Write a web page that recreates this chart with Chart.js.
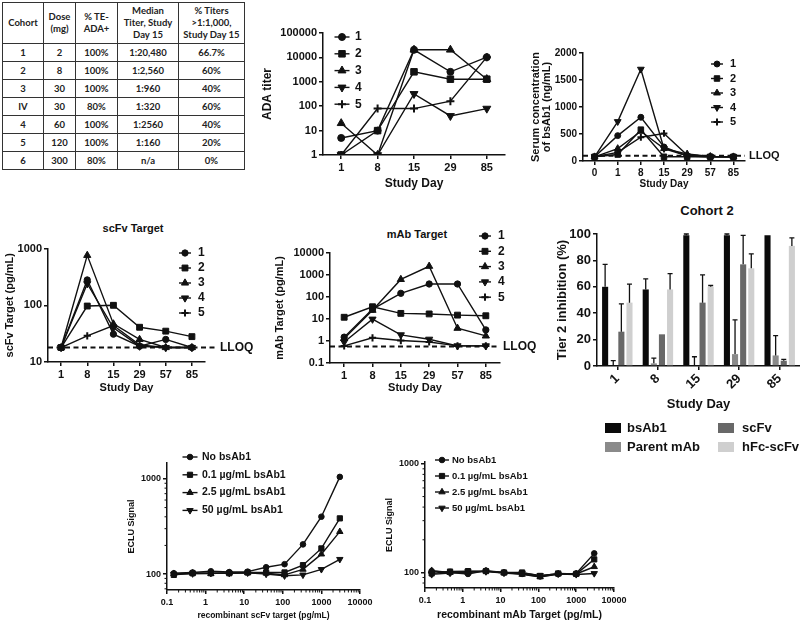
<!DOCTYPE html>
<html>
<head>
<meta charset="utf-8">
<script src="https://cdn.jsdelivr.net/npm/chart.js@4.4.1/dist/chart.umd.min.js"></script>
<style>
  html, body { margin: 0; padding: 0; background: #fff; }
  body { width: 800px; height: 623px; position: relative; overflow: hidden; }
  canvas { position: absolute; }
  .ttl { position: absolute; transform: translate(-50%, -50%); white-space: nowrap; color: #111;
         font-family: "Liberation Sans", Arial, sans-serif; font-weight: bold; }
  table { position: absolute; left: 2px; top: 2px; border-collapse: collapse; table-layout: fixed;
          font: bold 9.5px Lato, "Open Sans", sans-serif; color: #222; }
  th, td { border: 1px solid #333; text-align: center; padding: 0; white-space: pre-line; line-height: 1.25; }
  th { height: 40px; font-weight: bold; }
  td { height: 17px; }
</style>
</head>
<body>
<table id="cohortTable"></table>
<div class="ttl" style="left:133px; top:228px; font-size:11px">scFv Target</div>
<div class="ttl" style="left:417px; top:234px; font-size:11px">mAb Target</div>
<div class="ttl" style="left:707px; top:210px; font-size:13px">Cohort 2</div>

<script>
// ---------- data ----------
// summary table
const tableHead = ['Cohort', 'Dose\n(mg)', '% TE-\nADA+', 'Median\nTiter, Study\nDay 15', '% Titers\n>1:1,000,\nStudy Day 15'];
const colWidths = [41, 32, 42, 61, 66];
const cohorts = ['1', '2', '3', 'IV', '4', '5', '6'];
const doses = ['2', '8', '30', '30', '60', '120', '300'];
const teAda = ['100%', '100%', '100%', '80%', '100%', '100%', '80%'];
const medianTiter = ['1:20,480', '1:2,560', '1:960', '1:320', '1:2560', '1:160', 'n/a'];
const pctTiters = ['66.7%', '60%', '40%', '60%', '40%', '20%', '0%'];

const seriesNames = ['1', '2', '3', '4', '5'];

// ADA titer
const adaDays = ['1', '8', '15', '29', '85'];
const ada1 = [5, 10, 20480, 2560, 10240];
const ada2 = [1, 10, 2560, 1280, 1280];
const ada3 = [20, 1, 20480, 20480, 1280];
const ada4 = [1, 1, 320, 40, 80];
const ada5 = [1, 80, 80, 160, 10240];

// serum concentration of bsAb1 (ng/mL)
const serumDays = ['0', '1', '8', '15', '29', '57', '85'];
const serum1 = [78, 470, 810, 260, 90, 78, 78];
const serum2 = [78, 120, 580, 78, 78, 78, 78];
const serum3 = [78, 230, 550, 230, 130, 85, 78];
const serum4 = [78, 730, 1700, 230, 95, 78, 78];
const serum5 = [78, 160, 440, 510, 110, 85, 78];
const serumLloq = 95;

// scFv target (pg/mL)
const targetDays = ['1', '8', '15', '29', '57', '85'];
const scfv1 = [18, 280, 31, 19, 25, 18];
const scfv2 = [18, 97, 100, 41, 35, 28];
const scfv3 = [18, 760, 47, 25, 18, 18];
const scfv4 = [18, 240, 40, 19, 18, 18];
const scfv5 = [18, 29, 44, 20, 18, 18];
const scfvLloq = 18;

// mAb target (pg/mL)
const mab1 = [1.5, 28, 147, 390, 390, 3.2];
const mab2 = [12, 36, 18, 17, 15, 14];
const mab3 = [1.3, 25, 630, 2500, 3.8, 1.7];
const mab4 = [0.9, 9.8, 1.9, 1.2, 0.6, 0.6];
const mab5 = [0.6, 1.4, 1.05, 0.9, 0.6, 0.6];
const mabLloq = 0.56;
const lloqLabel = 'LLOQ';

// Cohort 2 tier 2 inhibition (%)
const cohortDays = ['1', '8', '15', '29', '85'];
const inhNames = ['bsAb1', 'Parent mAb', 'scFv', 'hFc-scFv'];
const bsAb1Inh = [60, 58, 99, 99, 99];
const bsAb1Err = [17, 8, 1, 1, 0];
const parentInh = [0, 2, 0, 9, 8];
const parentErr = [4, 4, 7, 26, 15];
const scfvInh = [26, 24, 48, 77, 4];
const scfvErr = [21, 0, 21, 22, 1];
const hfcInh = [48, 58, 60, 74, 91];
const hfcErr = [14, 12, 1, 11, 6];

// ECLU signal vs recombinant target (pg/mL)
const ecluNames = ['No bsAb1', '0.1 \u00b5g/mL bsAb1', '2.5 \u00b5g/mL bsAb1', '50 \u00b5g/mL bsAb1'];
const conc = [0.15, 0.46, 1.37, 4.1, 12.3, 37, 111, 333, 1000, 3000];
const scfvSigNo = [102, 104, 107, 105, 106, 118, 127, 205, 401, 1050];
const scfvSig01 = [98, 102, 102, 102, 104, 104, 104, 124, 186, 385];
const scfvSig25 = [101, 102, 101, 103, 103, 102, 98, 112, 162, 279];
const scfvSig50 = [100, 101, 102, 102, 103, 100, 96, 98, 112, 143];
const mabSigNo = [103, 100, 97, 104, 100, 97, 92, 97, 98, 150];
const mabSig01 = [98, 102, 103, 103, 100, 100, 93, 98, 97, 132];
const mabSig25 = [104, 100, 100, 103, 99, 96, 91, 97, 97, 113];
const mabSig50 = [96, 99, 102, 102, 99, 99, 94, 97, 96, 98];

// ---------- table ----------
const tbl = document.getElementById('cohortTable');
tbl.innerHTML = '<colgroup>' + colWidths.map(w => `<col style="width:${w}px">`).join('') + '</colgroup>' +
  '<tr>' + tableHead.map(h => `<th>${h.replace('>', '&gt;')}</th>`).join('') + '</tr>' +
  cohorts.map((c, i) => `<tr><td>${c}</td><td>${doses[i]}</td><td>${teAda[i]}</td><td>${medianTiter[i]}</td><td>${pctTiters[i]}</td></tr>`).join('');

// ---------- chart helpers ----------
const FONT = '"Liberation Sans", Arial, Helvetica, sans-serif';
const INK = '#111';
Chart.defaults.font.family = FONT;
Chart.defaults.font.weight = 'bold';
Chart.defaults.color = INK;
Chart.defaults.plugins.legend.display = false;
Chart.defaults.plugins.tooltip.enabled = false;

const isDecade = v => Math.abs(Math.log10(v) - Math.round(Math.log10(v))) < 1e-6;
const decadesOnly = s => { s.ticks = s.ticks.filter(t => isDecade(t.value)); };
const plainNum = v => String(+v);
const catGrid = { drawOnChartArea: false, color: INK, lineWidth: 1.5, tickLength: 4, offset: false };

function axis(fs, title, titleFs, titlePad, extra, tickExtra, titleLh) {
  const ticks = { font: { size: fs, weight: 'bold' }, color: INK, padding: 2, autoSkip: false, maxRotation: 0 };
  if (extra.type !== 'category') ticks.callback = plainNum;
  return Object.assign({
    border: { color: INK, width: 1.5 },
    grid: { drawOnChartArea: false, color: INK, lineWidth: 1.5, tickLength: 4 },
    ticks: Object.assign(ticks, tickExtra),
    title: { display: true, text: title, color: INK, padding: titlePad,
             font: { size: titleFs, weight: 'bold', lineHeight: titleLh || 1.1 } }
  }, extra);
}

function markers(s) {
  return [
    { pointStyle: 'circle', pointRadius: 3.5 * s },
    { pointStyle: 'rect', pointRadius: 4.6 * s },
    { pointStyle: 'triangle', pointRadius: 4.6 * s },
    { pointStyle: 'triangle', pointRotation: 180, pointRadius: 4.6 * s },
    { pointStyle: 'cross', pointRadius: 4 * s, pointBorderWidth: 2 }
  ];
}

function lineSets(names, arrays, s, xs) {
  const m = markers(s);
  return arrays.map((arr, i) => Object.assign({
    label: names[i],
    data: xs ? arr.map((v, j) => ({ x: xs[j], y: v })) : arr,
    borderColor: INK, backgroundColor: INK, borderWidth: 1.4,
    pointBackgroundColor: INK, pointBorderColor: INK, pointBorderWidth: 1,
    tension: 0
  }, m[i]));
}

// canvas box [left, top, width, height] and plot area [x0, y0, x1, y1], page pixels
function panel(box, area, config) {
  const [left, top, w, h] = box;
  const cv = document.createElement('canvas');
  cv.width = w; cv.height = h;
  Object.assign(cv.style, { left: left + 'px', top: top + 'px', width: w + 'px', height: h + 'px' });
  document.body.appendChild(cv);
  const o = config.options;
  o.responsive = false; o.animation = false; o.devicePixelRatio = 1;
  o.layout = { padding: { left: 0, top: area[1] - top, right: left + w - area[2], bottom: 0 } };
  o.scales.x.afterFit = s => { s.height = top + h - area[3]; };
  o.scales.y.afterFit = s => { s.width = area[0] - left; };
  return new Chart(cv, config);
}

// legend drawn inside the panel: line + marker + label
const inLegend = {
  id: 'inLegend',
  afterDraw(chart, args, o) {
    if (!o || o.x === undefined) return;
    const ctx = chart.ctx, ox = chart.canvas.offsetLeft, oy = chart.canvas.offsetTop;
    ctx.save();
    ctx.font = `bold ${o.size}px ${FONT}`;
    ctx.textBaseline = 'middle';
    ctx.fillStyle = INK; ctx.strokeStyle = INK;
    chart.data.datasets.forEach((ds, i) => {
      const x = o.x - ox, y = o.y + i * o.gap - oy;
      ctx.lineWidth = ds.borderWidth;
      ctx.beginPath(); ctx.moveTo(x - o.len / 2, y); ctx.lineTo(x + o.len / 2, y); ctx.stroke();
      ctx.lineWidth = ds.pointBorderWidth;
      Chart.helpers.drawPoint(ctx, { pointStyle: ds.pointStyle, rotation: ds.pointRotation || 0,
        radius: ds.pointRadius, borderWidth: ds.pointBorderWidth }, x, y);
      ctx.fillText(ds.label, o.tx - ox, y);
    });
    ctx.restore();
  }
};

// dashed lower limit of quantification
const lloq = {
  id: 'lloq',
  afterDatasetsDraw(chart, args, o) {
    if (!o || o.value === undefined) return;
    const { ctx, chartArea: a, scales: { y } } = chart;
    const py = y.getPixelForValue(o.value);
    ctx.save();
    ctx.strokeStyle = INK; ctx.lineWidth = 2; ctx.setLineDash([5, 3.5]);
    ctx.beginPath(); ctx.moveTo(a.left, py); ctx.lineTo(a.right + o.extend, py); ctx.stroke();
    ctx.setLineDash([]);
    ctx.font = `bold ${o.size}px ${FONT}`; ctx.fillStyle = INK; ctx.textBaseline = 'middle';
    ctx.fillText(lloqLabel, a.right + o.extend + o.gap, py);
    ctx.restore();
  }
};

// upward error whiskers
const errorBars = {
  id: 'errorBars',
  afterDatasetsDraw(chart) {
    const { ctx, scales: { y } } = chart;
    ctx.save(); ctx.strokeStyle = INK; ctx.lineWidth = 1.3;
    chart.data.datasets.forEach((ds, i) => {
      if (!ds.errorBars) return;
      chart.getDatasetMeta(i).data.forEach((bar, j) => {
        const e = ds.errorBars[j];
        if (!e) return;
        const top = y.getPixelForValue(ds.data[j] + e);
        ctx.beginPath();
        ctx.moveTo(bar.x, bar.y); ctx.lineTo(bar.x, top);
        ctx.moveTo(bar.x - 2.5, top); ctx.lineTo(bar.x + 2.5, top);
        ctx.stroke();
      });
    });
    ctx.restore();
  }
};

// box legend in a 2x2 grid
const boxLegend = {
  id: 'boxLegend',
  afterDraw(chart, args, o) {
    if (!o || !o.cols) return;
    const ctx = chart.ctx, ox = chart.canvas.offsetLeft, oy = chart.canvas.offsetTop;
    ctx.save();
    ctx.font = `bold ${o.size}px ${FONT}`; ctx.textBaseline = 'middle';
    chart.data.datasets.forEach((ds, i) => {
      const c = Math.floor(i / 2), r = i % 2;
      const x = o.cols[c] - ox, y = o.rows[r] - oy;
      ctx.fillStyle = ds.backgroundColor;
      ctx.fillRect(x, y - o.bh / 2, o.bw, o.bh);
      ctx.fillStyle = INK;
      ctx.fillText(ds.label, o.text[c] - ox, y);
    });
    ctx.restore();
  }
};

// short minor ticks on log axes
const minorTicks = {
  id: 'minorTicks',
  afterDraw(chart, args, o) {
    if (!o || !o.len) return;
    const ctx = chart.ctx;
    ctx.save(); ctx.strokeStyle = INK; ctx.lineWidth = 1;
    ['x', 'y'].forEach(k => {
      const s = chart.scales[k];
      if (s.type !== 'logarithmic') return;
      for (let e = Math.floor(Math.log10(s.min)); e <= Math.ceil(Math.log10(s.max)); e++) {
        for (let m = 2; m <= 9; m++) {
          const v = m * Math.pow(10, e);
          if (v < s.min || v > s.max) continue;
          const p = s.getPixelForValue(v);
          ctx.beginPath();
          if (k === 'x') { ctx.moveTo(p, s.top); ctx.lineTo(p, s.top + o.len); }
          else { ctx.moveTo(s.right, p); ctx.lineTo(s.right - o.len, p); }
          ctx.stroke();
        }
      }
    });
    ctx.restore();
  }
};

Chart.register(inLegend, lloq, errorBars, boxLegend, minorTicks);

// ---------- ADA titer ----------
panel([255, 0, 290, 192], [323, 33, 505, 155], {
  type: 'line',
  data: { labels: adaDays, datasets: lineSets(seriesNames, [ada1, ada2, ada3, ada4, ada5], 1) },
  options: {
    scales: {
      x: axis(11, 'Study Day', 12, { top: 0, bottom: 1.4 }, { type: 'category', offset: true, grid: catGrid }),
      y: axis(11, 'ADA titer', 12, { top: 6.4, bottom: 0 }, { type: 'logarithmic', min: 1, max: 100000, afterBuildTicks: decadesOnly })
    },
    plugins: { inLegend: { x: 342, y: 37, gap: 16.8, len: 15, tx: 355, size: 12 } }
  }
});

// ---------- serum concentration ----------
panel([528, 20, 272, 170], [583, 53, 745, 161], {
  type: 'line',
  data: { labels: serumDays, datasets: lineSets(seriesNames, [serum1, serum2, serum3, serum4, serum5], 0.85) },
  options: {
    scales: {
      x: axis(10, 'Study Day', 10, { top: 0, bottom: 0.5 }, { type: 'category', offset: true, grid: catGrid }),
      y: axis(10, ['Serum concentration', 'of bsAb1 (ng/mL)'], 11, { top: 2.5, bottom: 0 }, { min: 0, max: 2000 }, { stepSize: 500 }, 1.0)
    },
    plugins: {
      inLegend: { x: 717, y: 64, gap: 14.5, len: 12, tx: 730, size: 11 },
      lloq: { value: serumLloq, extend: 0, gap: 4, size: 11 }
    }
  }
});

// ---------- scFv target ----------
panel([0, 240, 260, 156], [48, 248, 205, 362], {
  type: 'line',
  data: { labels: targetDays, datasets: lineSets(seriesNames, [scfv1, scfv2, scfv3, scfv4, scfv5], 0.9) },
  options: {
    scales: {
      x: axis(11, 'Study Day', 11, { top: 0, bottom: 2 }, { type: 'category', offset: true, grid: catGrid }),
      y: axis(11, 'scFv Target (pg/mL)', 11, { top: 4, bottom: 0 }, { type: 'logarithmic', min: 10, max: 1000, afterBuildTicks: decadesOnly })
    },
    plugins: {
      inLegend: { x: 185, y: 253, gap: 15, len: 12, tx: 198, size: 12 },
      lloq: { value: scfvLloq, extend: 10, gap: 5, size: 12 }
    }
  }
});

// ---------- mAb target ----------
panel([270, 225, 270, 171], [330, 253, 500, 363], {
  type: 'line',
  data: { labels: targetDays, datasets: lineSets(seriesNames, [mab1, mab2, mab3, mab4, mab5], 0.9) },
  options: {
    scales: {
      x: axis(11, 'Study Day', 11, { top: 0, bottom: 2 }, { type: 'category', offset: true, grid: catGrid }),
      y: axis(11, 'mAb Target (pg/mL)', 11, { top: 4, bottom: 0 }, { type: 'logarithmic', min: 0.1, max: 10000, afterBuildTicks: decadesOnly })
    },
    plugins: {
      inLegend: { x: 485, y: 236, gap: 15.3, len: 12, tx: 498, size: 12 },
      lloq: { value: mabLloq, extend: -3, gap: 6, size: 12 }
    }
  }
});

// ---------- Cohort 2 bars ----------
const barColors = ['#0a0a0a', '#8a8a8a', '#686868', '#cfcfcf'];
const barVals = [bsAb1Inh, parentInh, scfvInh, hfcInh];
const barErrs = [bsAb1Err, parentErr, scfvErr, hfcErr];
panel([540, 215, 260, 245], [597, 234, 800, 366], {
  type: 'bar',
  data: {
    labels: cohortDays,
    datasets: inhNames.map((n, i) => ({
      label: n, data: barVals[i], errorBars: barErrs[i], backgroundColor: barColors[i],
      borderWidth: 0, categoryPercentage: 0.8, barPercentage: 0.75
    }))
  },
  options: {
    scales: {
      x: axis(13, 'Study Day', 13, { top: 0, bottom: 48 }, { type: 'category', grid: catGrid },
        { minRotation: 45, maxRotation: 45, padding: 1 }),
      y: axis(13, 'Tier 2 inhibition (%)', 13, { top: 14.8, bottom: 0 }, { min: 0, max: 100 }, { stepSize: 20 })
    },
    plugins: {
      boxLegend: { cols: [605, 718], text: [627, 742], rows: [428, 447], bw: 16, bh: 10, size: 13 }
    }
  }
});

// ---------- ECLU: scFv target ----------
panel([90, 440, 300, 181], [167, 463, 360, 590], {
  type: 'line',
  data: { datasets: lineSets(ecluNames, [scfvSigNo, scfvSig01, scfvSig25, scfvSig50], 0.8, conc) },
  options: {
    scales: {
      x: axis(9, 'recombinant scFv target (pg/mL)', 8.5, { top: 0, bottom: 0.6 }, { type: 'logarithmic', min: 0.1, max: 10000, afterBuildTicks: decadesOnly }, { padding: 3 }),
      y: axis(9, 'ECLU Signal', 9, { top: 37, bottom: 0 }, { type: 'logarithmic', min: 68, max: 1470, afterBuildTicks: decadesOnly })
    },
    plugins: {
      inLegend: { x: 190, y: 457, gap: 17.8, len: 15, tx: 202, size: 10.5 },
      minorTicks: { len: 2.5 }
    }
  }
});

// ---------- ECLU: mAb target ----------
panel([380, 440, 260, 181], [425, 462, 614, 588], {
  type: 'line',
  data: { datasets: lineSets(ecluNames, [mabSigNo, mabSig01, mabSig25, mabSig50], 0.8, conc) },
  options: {
    scales: {
      x: axis(9, 'recombinant mAb Target (pg/mL)', 10.5, { top: 0, bottom: 0 }, { type: 'logarithmic', min: 0.1, max: 10000, afterBuildTicks: decadesOnly }, { padding: 3 }),
      y: axis(9, 'ECLU Signal', 9, { top: 5, bottom: 0 }, { type: 'logarithmic', min: 72, max: 1040, afterBuildTicks: decadesOnly })
    },
    plugins: {
      inLegend: { x: 442, y: 460, gap: 16, len: 14, tx: 452, size: 9.5 },
      minorTicks: { len: 2.5 }
    }
  }
});
</script>
</body>
</html>
